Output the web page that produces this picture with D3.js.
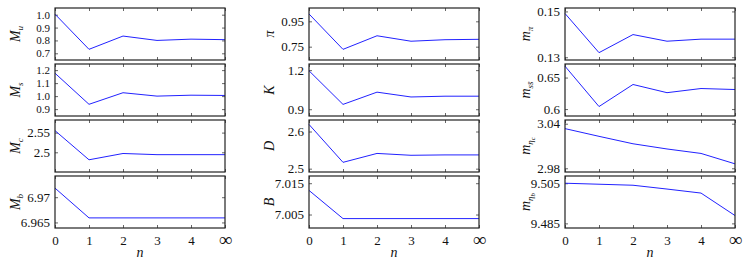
<!DOCTYPE html>
<html>
<head>
<meta charset="utf-8">
<script src="https://cdn.jsdelivr.net/npm/d3@7"></script>
<style>
  body { margin: 0; background: white; }
  svg { display: block; }
  svg text { font-family: 'Liberation Serif', 'DejaVu Serif', serif; }
</style>
</head>
<body>
<div id="plot"></div>
<script>
// x positions: truncation order n
const nLabels = ['0', '1', '2', '3', '4', '\u221e'];

// values, one array per panel
const Mu = [1.004, 0.731, 0.834, 0.800, 0.810, 0.806];
const Ms = [1.176, 0.937, 1.026, 1.000, 1.007, 1.005];
const Mc = [2.555, 2.481, 2.497, 2.494, 2.494, 2.494];
const Mb = [6.9718, 6.9659, 6.9659, 6.9659, 6.9659, 6.9659];
const piV = [1.008, 0.729, 0.836, 0.793, 0.805, 0.808];
const KV = [1.195, 0.937, 1.031, 0.994, 1.000, 1.000];
const DV = [2.619, 2.517, 2.541, 2.536, 2.537, 2.537];
const BV = [7.0127, 7.0037, 7.0037, 7.0037, 7.0037, 7.0037];
const mPi = [0.1491, 0.1320, 0.1399, 0.1370, 0.1379, 0.1379];
const mSs = [0.668, 0.604, 0.639, 0.626, 0.6326, 0.631];
const mEtac = [3.0334, 3.023, 3.013, 3.006, 3.000, 2.986];
const mEtab = [9.505, 9.5045, 9.504, 9.5021, 9.5001, 9.4889];

// y tick values per panel
const ticksMu = [0.7, 0.8, 0.9, 1.0];
const ticksMs = [0.9, 1.0, 1.1, 1.2];
const ticksMc = [2.5, 2.55];
const ticksMb = [6.965, 6.97];
const ticksPi = [0.75, 0.95];
const ticksK = [0.9, 1.2];
const ticksD = [2.5, 2.6];
const ticksB = [7.005, 7.015];
const ticksMpi = [0.13, 0.15];
const ticksMss = [0.6, 0.65];
const ticksMetac = [2.98, 3.04];
const ticksMetab = [9.485, 9.505];

// y ranges per panel
const domMu = [0.648, 1.052];
const domMs = [0.847, 1.247];
const domMc = [2.45, 2.582];
const domMb = [6.9639, 6.9742];
const domPi = [0.645, 1.055];
const domK = [0.848, 1.247];
const domD = [2.491, 2.631];
const domB = [7.0007, 7.0173];
const domMpi = [0.1288, 0.1515];
const domMss = [0.589, 0.6715];
const domMetac = [2.975, 3.045];
const domMetab = [9.4827, 9.5086];

// axis labels: [main, subscript, subsub]
const columns = [
  [
    { v: Mu, t: ticksMu, d: domMu, lab: ['M', 'u'], fmt: '.1f' },
    { v: Ms, t: ticksMs, d: domMs, lab: ['M', 's'], fmt: '.1f' },
    { v: Mc, t: ticksMc, d: domMc, lab: ['M', 'c'] },
    { v: Mb, t: ticksMb, d: domMb, lab: ['M', 'b'] },
  ],
  [
    { v: piV, t: ticksPi, d: domPi, lab: ['\u03c0'] },
    { v: KV, t: ticksK, d: domK, lab: ['K'], fmt: '.1f' },
    { v: DV, t: ticksD, d: domD, lab: ['D'], fmt: '.1f' },
    { v: BV, t: ticksB, d: domB, lab: ['B'] },
  ],
  [
    { v: mPi, t: ticksMpi, d: domMpi, lab: ['m', '\u03c0'] },
    { v: mSs, t: ticksMss, d: domMss, lab: ['m', 's', 's\u0304'] },
    { v: mEtac, t: ticksMetac, d: domMetac, lab: ['m', '\u03b7', 'c'] },
    { v: mEtab, t: ticksMetab, d: domMetab, lab: ['m', '\u03b7', 'b'] },
  ],
];

const W = 747, H = 266;
const colLeft = [55, 309, 565];
const panelW = 170;
const panelH = 52;
const panelTop = 8;
const panelStep = 56;

const svg = d3.select('#plot')
  .append('svg')
  .attr('width', W)
  .attr('height', H);

const x = d3.scaleLinear().domain([0, 5]).range([0, panelW]);

const drawLabel = (g, lab) => {
  const text = g.append('text')
    .attr('transform', `translate(-40,${panelH / 2})rotate(-90)`)
    .attr('text-anchor', 'middle')
    .attr('dy', '0.35em')
    .style('font-size', '14px')
    .style('font-style', 'italic')
    .attr('fill', '#111');
  text.append('tspan').text(lab[0]);
  if (lab[1]) {
    text.append('tspan')
      .attr('dy', 3)
      .style('font-size', '9px')
      .text(lab[1]);
  }
  if (lab[2]) {
    if (lab[1] === 's') {
      text.append('tspan').style('font-size', '9px').text(lab[2]);
    } else {
      text.append('tspan')
        .attr('dy', 2)
        .style('font-size', '7px')
        .text(lab[2]);
    }
  }
};

columns.forEach((col, ci) => {
  col.forEach((p, pi) => {
    const g = svg.append('g')
      .attr('transform', `translate(${colLeft[ci]},${panelTop + pi * panelStep})`);

    const y = d3.scaleLinear().domain(p.d).range([panelH, 0]);
    const fmt = p.fmt ? d3.format(p.fmt) : (d => String(d));
    const last = pi === col.length - 1;
    // dense tick sets get a slightly smaller font so labels don't collide
    const tickFont = p.t.length > 2 ? '11px' : '13px';

    // y axis left (labels) and right (ticks only), inward ticks
    g.append('g')
      .call(d3.axisLeft(y).tickValues(p.t).tickSize(-3).tickPadding(5).tickFormat(fmt))
      .attr('font-family', null)
      .call(a => a.select('.domain').remove())
      .call(a => a.selectAll('line').attr('stroke', '#666'))
      .selectAll('text')
      .style('font-size', tickFont)
      .attr('fill', '#111');

    g.append('g')
      .attr('transform', `translate(${panelW},0)`)
      .call(d3.axisRight(y).tickValues(p.t).tickSize(-3).tickFormat(''))
      .call(a => a.select('.domain').remove())
      .call(a => a.selectAll('line').attr('stroke', '#666'));

    // x ticks on top and bottom
    g.append('g')
      .call(d3.axisTop(x).ticks(6).tickSize(-3).tickFormat(''))
      .call(a => a.select('.domain').remove())
      .call(a => a.selectAll('line').attr('stroke', '#666'));

    const xb = g.append('g')
      .attr('transform', `translate(0,${panelH})`)
      .call(d3.axisBottom(x).ticks(6).tickSize(-3).tickPadding(8)
        .tickFormat(last ? (d => nLabels[d]) : ''))
      .attr('font-family', null)
      .call(a => a.select('.domain').remove())
      .call(a => a.selectAll('line').attr('stroke', '#666'));
    xb.selectAll('text')
      .style('font-size', d => d === 5 ? '19px' : '13px')
      .attr('dy', d => d === 5 ? '0.5em' : '0.71em')
      .attr('fill', '#111');

    // series line
    g.append('path')
      .datum(p.v)
      .attr('fill', 'none')
      .attr('stroke', '#2222ff')
      .attr('stroke-width', 1)
      .attr('d', d3.line().x((d, i) => x(i)).y(d => y(d)));

    // frame
    g.append('rect')
      .attr('width', panelW)
      .attr('height', panelH)
      .attr('fill', 'none')
      .attr('stroke', '#222')
      .attr('stroke-width', 1.2);

    drawLabel(g, p.lab);

    if (last) {
      g.append('text')
        .attr('x', panelW / 2)
        .attr('y', panelH + 29)
        .attr('text-anchor', 'middle')
        .style('font-size', '14px')
        .style('font-style', 'italic')
        .attr('fill', '#111')
        .text('n');
    }
  });
});
</script>
</body>
</html>
